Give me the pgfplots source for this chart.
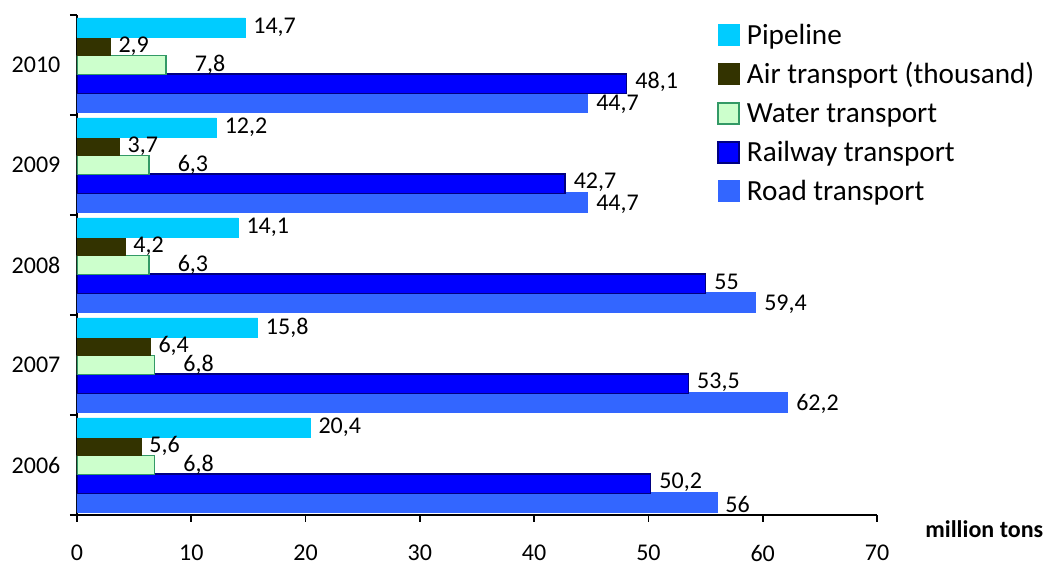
\documentclass[border=0pt]{standalone}
\usepackage{fontspec}
\setmainfont{Carlito}
\usepackage{pgfplots}
\pgfplotsset{compat=1.18}
\usetikzlibrary{calc}
\definecolor{pipe}{HTML}{00CCFF}
\definecolor{air}{HTML}{333300}
\definecolor{waterfill}{HTML}{CCFFCC}
\definecolor{waterdraw}{HTML}{339966}
\definecolor{rail}{HTML}{0000FF}
\definecolor{raildraw}{HTML}{000080}
\definecolor{road}{HTML}{3366FF}
\begin{document}
\begin{tikzpicture}
\begin{axis}[
  name=ax,
  width=400pt, height=250pt, scale only axis,
  xbar, bar width=9.6pt,
  xmin=0, xmax=70, ymin=2005.5, ymax=2010.5,
  axis lines=left, axis line style={-, line width=0.9pt},
  xtick={0,10,...,70},
  ytick={2005.5,2006.5,...,2010.5}, yticklabels={},
  extra y ticks={2006,2007,2008,2009,2010},
  extra y tick labels={2006,2007,2008,2009,2010},
  extra y tick style={major tick length=0pt},
  tick align=outside, major tick length=3.5pt,
  tick style={black, line width=0.9pt},
  /pgf/number format/assume math mode=true,
  tick label style={font=\fontsize{12}{14}\selectfont},
  xticklabel style={yshift=-8pt},
  yticklabel style={inner sep=0pt, xshift=-8.1pt},
  point meta=x,
  nodes near coords={\pgfmathprintnumber[use comma]{\pgfplotspointmeta}},
  every node near coord/.append style={font=\fontsize{12}{14}\selectfont, anchor=west, inner sep=0pt, xshift=4pt, black},
  reverse legend,
  legend style={at={(rel axis cs:0.8,1)}, anchor=north west, yshift=-4.25pt, draw=none, fill=none, inner sep=0pt,
    font=\fontsize{14.6}{16}\selectfont, row sep=5pt, column sep=2.5pt, cells={anchor=west},
    nodes={inner sep=1pt, text height=9.5pt, text depth=3pt}},
  legend image code/.code={\draw[#1] (0pt,-3.75pt) rectangle (10.5pt,6.75pt);},
]
\addplot[fill=road, draw=road, bar shift=-18.7pt, every node near coord/.append style={yshift=-0.8pt}] coordinates {(56,2006) (62.2,2007) (59.4,2008) (44.7,2009) (44.7,2010)};
\addplot[fill=rail, draw=raildraw, line width=0.75pt, bar shift=-9.35pt, every node near coord/.append style={yshift=0.8pt}] coordinates {(50.2,2006) (53.5,2007) (55,2008) (42.7,2009) (48.1,2010)};
\addplot[fill=waterfill, draw=waterdraw, line width=0.75pt, bar shift=0pt, every node near coord/.append style={xshift=10pt}] coordinates {(6.8,2006) (6.8,2007) (6.3,2008) (6.3,2009) (7.8,2010)};
\addplot[fill=air, draw=air, bar shift=9.35pt] coordinates {(5.6,2006) (6.4,2007) (4.2,2008) (3.7,2009) (2.9,2010)};
\addplot[fill=pipe, draw=pipe, bar shift=18.7pt] coordinates {(20.4,2006) (15.8,2007) (14.1,2008) (12.2,2009) (14.7,2010)};
\legend{Road transport, Railway transport, Water transport, Air transport (thousand), Pipeline}
\end{axis}
\node[anchor=base west, inner sep=0pt, font=\bfseries\fontsize{12}{14}\selectfont] at ($(ax.south east)+(24pt,-11.25pt)$) {million tons};
\path ($(ax.south west)+(-38.5pt,-22pt)$) rectangle ($(ax.north east)+(84.5pt,7.5pt)$);
\end{tikzpicture}
\end{document}
